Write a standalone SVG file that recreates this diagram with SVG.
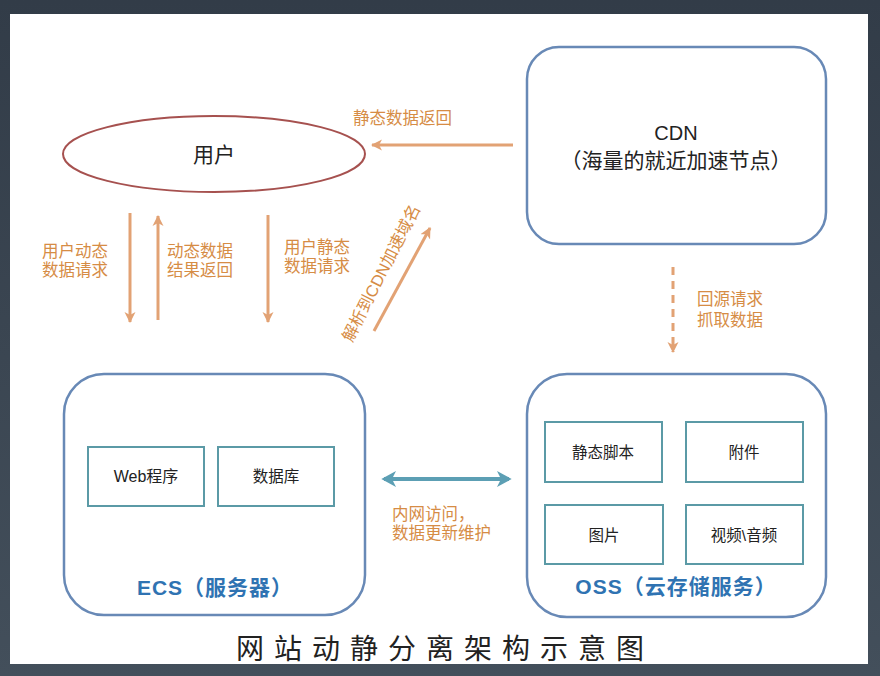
<svg xmlns="http://www.w3.org/2000/svg" width="880" height="676" viewBox="0 0 880 676">
<defs>
<linearGradient id="bg" x1="0" y1="0" x2="0" y2="1"><stop offset="0" stop-color="#323c48"/><stop offset="1" stop-color="#434f5b"/></linearGradient>
<marker id="ao" viewBox="0 0 12 12" refX="10" refY="6" markerWidth="12" markerHeight="12" markerUnits="userSpaceOnUse" orient="auto"><path d="M0,0.5 L11,6 L0,11.5 L3,6 Z" fill="#e2a274"/></marker>
<marker id="at" viewBox="0 0 12 12" refX="9" refY="6" markerWidth="16" markerHeight="16" markerUnits="userSpaceOnUse" orient="auto-start-reverse"><path d="M0,0 L11,6 L0,12 L3,6 Z" fill="#5c9fb4"/></marker>
</defs>
<style>
.big{fill:none;stroke:#6889b6;stroke-width:2.5}
.inner{fill:#fff;stroke:#5b9aa6;stroke-width:2}
.lab{font-family:"Liberation Sans","Noto Sans CJK SC",sans-serif;font-size:16.5px;fill:#d68c45}
.txt{font-family:"Liberation Sans","Noto Sans CJK SC",sans-serif;fill:#222}
.bt{font-family:"Liberation Sans","Noto Sans CJK SC",sans-serif;font-weight:bold;font-size:21px;letter-spacing:1px;fill:#2f73b2}
.oa{stroke:#e2a274;stroke-width:3;fill:none}
</style>
<rect width="880" height="676" fill="url(#bg)"/>
<rect x="10" y="14" width="858" height="650" fill="#fff"/>

<g id="user">
<ellipse cx="214" cy="154" rx="151" ry="38" fill="#fff" stroke="#a6514f" stroke-width="2"/>
<text class="txt" x="214" y="162" font-size="21" text-anchor="middle">用户</text>
</g>

<g id="cdn">
<rect class="big" x="527" y="47" width="299" height="197" rx="32"/>
<text class="txt" x="676" y="140" font-size="20" text-anchor="middle">CDN</text>
<text class="txt" x="676" y="168" font-size="21" text-anchor="middle">（海量的就近加速节点）</text>
</g>

<g id="ecs">
<rect class="big" x="64" y="374" width="301" height="241" rx="40"/>
<g id="web"><rect class="inner" x="88" y="447" width="116" height="59"/><text class="txt" x="146" y="482" font-size="16" text-anchor="middle">Web程序</text></g>
<g id="db"><rect class="inner" x="218" y="447" width="116" height="59"/><text class="txt" x="276" y="482" font-size="15.5" text-anchor="middle">数据库</text></g>
<text class="bt" x="215" y="595" text-anchor="middle">ECS（服务器）</text>
</g>

<g id="oss">
<rect class="big" x="527" y="374" width="299" height="243" rx="40"/>
<g id="js"><rect class="inner" x="545" y="422" width="117" height="60"/><text class="txt" x="603" y="458" font-size="15.5" text-anchor="middle">静态脚本</text></g>
<g id="att"><rect class="inner" x="686" y="422" width="117" height="60"/><text class="txt" x="744" y="458" font-size="15.5" text-anchor="middle">附件</text></g>
<g id="img"><rect class="inner" x="545" y="505" width="118" height="59"/><text class="txt" x="604" y="541" font-size="15.5" text-anchor="middle">图片</text></g>
<g id="av"><rect class="inner" x="686" y="505" width="117" height="59"/><text class="txt" x="744" y="541" font-size="15.5" text-anchor="middle">视频\音频</text></g>
<text class="bt" x="676" y="594" text-anchor="middle">OSS（云存储服务）</text>
</g>

<g id="connectors">
<line class="oa" x1="513" y1="145" x2="372" y2="145" marker-end="url(#ao)"/>
<line class="oa" x1="130" y1="213" x2="130" y2="322" marker-end="url(#ao)"/>
<line class="oa" x1="158" y1="320" x2="158" y2="216" marker-end="url(#ao)"/>
<line class="oa" x1="268" y1="215" x2="268" y2="322" marker-end="url(#ao)"/>
<line class="oa" x1="374" y1="331" x2="430" y2="228" marker-end="url(#ao)"/>
<line class="oa" x1="673" y1="267" x2="673" y2="352" stroke-dasharray="8,6" marker-end="url(#ao)"/>
<line x1="384" y1="479" x2="509" y2="479" stroke="#5c9fb4" stroke-width="4" marker-start="url(#at)" marker-end="url(#at)"/>
<text class="lab" x="353" y="124">静态数据返回</text>
<text class="lab" x="42" y="257">用户动态</text>
<text class="lab" x="42" y="276">数据请求</text>
<text class="lab" x="167" y="257">动态数据</text>
<text class="lab" x="167" y="276">结果返回</text>
<text class="lab" x="284" y="253">用户静态</text>
<text class="lab" x="284" y="272">数据请求</text>
<text class="lab" transform="translate(352,343) rotate(-63)">解析到CDN加速域名</text>
<text class="lab" x="697" y="305">回源请求</text>
<text class="lab" x="697" y="326">抓取数据</text>
<text class="lab" x="392" y="520">内网访问，</text>
<text class="lab" x="392" y="539">数据更新维护</text>
</g>

<text x="236" y="659" font-family="'Noto Sans CJK SC',sans-serif" font-size="28" letter-spacing="10" fill="#222">网站动静分离架构示意图</text>
</svg>
